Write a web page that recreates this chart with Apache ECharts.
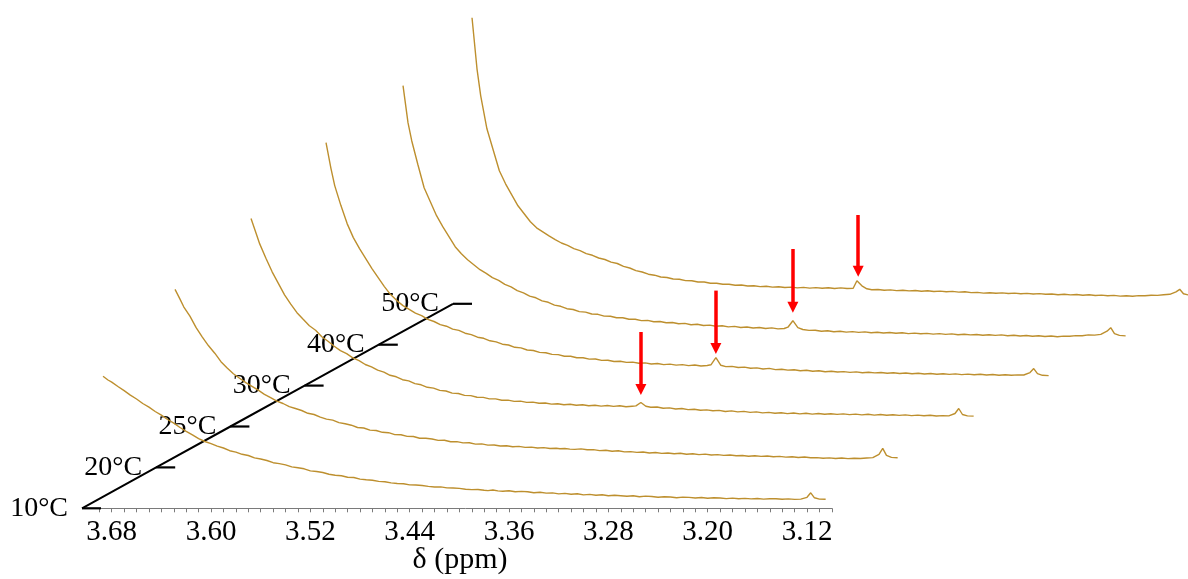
<!DOCTYPE html>
<html>
<head>
<meta charset="utf-8">
<script src="https://cdn.jsdelivr.net/npm/echarts@6/dist/echarts.min.js"></script>
<style>
html,body{margin:0;padding:0;background:#fff;}
#chart{width:1188px;height:579px;}
</style>
</head>
<body>
<div id="chart"></div>
<script>
// ---------------- DATA ----------------
const temps = ['10°C', '20°C', '25°C', '30°C', '40°C', '50°C'];

// chemical shift grid (ppm), shared by all spectra
const ppm = [
  3.687, 3.683, 3.680, 3.675, 3.670, 3.665, 3.660, 3.655, 3.650, 3.645, 3.640, 3.635, 3.630, 3.625,
  3.620, 3.615, 3.610, 3.605, 3.600, 3.595, 3.590, 3.585, 3.580, 3.575, 3.570, 3.565, 3.560, 3.555,
  3.550, 3.545, 3.540, 3.535, 3.530, 3.525, 3.520, 3.515, 3.510, 3.505, 3.500, 3.495, 3.490, 3.485,
  3.480, 3.475, 3.470, 3.465, 3.460, 3.455, 3.450, 3.445, 3.440, 3.435, 3.430, 3.425, 3.420, 3.415,
  3.410, 3.405, 3.400, 3.395, 3.390, 3.385, 3.380,
  3.377, 3.373, 3.369,
  3.365, 3.360, 3.355, 3.350, 3.345, 3.340, 3.335, 3.330, 3.325, 3.320, 3.315, 3.310, 3.305, 3.300,
  3.295, 3.290, 3.285, 3.280, 3.275, 3.270, 3.265, 3.260, 3.255, 3.250, 3.245, 3.240, 3.235, 3.230,
  3.225, 3.220, 3.215, 3.210, 3.205, 3.200, 3.195, 3.190, 3.185, 3.180, 3.175, 3.170, 3.165, 3.160,
  3.155, 3.150, 3.145, 3.140, 3.135, 3.130, 3.125, 3.120,
  3.117, 3.114, 3.110, 3.105
];

// intensities (arbitrary units) read for each temperature
const s10 = [
  132, 128.3, 126.2, 121.8, 117.7, 113.2, 109.3, 104.8, 101.2, 96.8, 93.1, 88.8, 85.2, 80.8,
  77, 73.4, 69.6, 66.8, 64.6, 62.1, 60.3, 57.6, 56.2, 54.0, 52.8, 50.4, 49.3, 47.8,
  45.6, 44.7, 43.4, 41.4, 40.5, 39.5, 37.4, 36.8, 35.8, 34.1, 33.1, 32.6, 31.0, 30.8,
  29.2, 28.5, 28.1, 26.9, 26.6, 25.4, 24.8, 24.6, 23.4, 23.3, 22.8, 21.9, 21.3, 21.4,
  20.4, 20.3, 19.9, 19.1, 18.7, 18.8, 18.1,
  17.7, 18.3, 17.4,
  17.0, 17.6, 16.5, 16.9, 16.6, 15.5, 16.1, 15.2, 15.4, 14.4, 14.9, 14.0, 14.5, 13.4,
  13.9, 13.0, 13.5, 12.5, 13.1, 12.6, 12.0, 12.5, 11.5, 12.2, 11.8, 11.0, 11.6, 11.3,
  10.6, 11.2, 10.9, 10.3, 10.8, 10.0, 10.5, 10.3, 9.7, 10.2, 9.6, 9.9, 9.4, 9.8,
  9.2, 9.6, 9.5, 9.0, 9.4, 8.9, 9.2, 11,
  15.5, 10.5, 9.2, 9
];
const s20 = [
  178, 168.3, 160.6, 151.2, 139.7, 130.3, 121.6, 114.2, 105.7, 99.3, 93.7, 89.2, 84.8, 81.1,
  77.2, 73.0, 69.8, 66.2, 63.9, 60.7, 58.9, 56.9, 54.1, 52.9, 50.2, 48.3, 47.3, 44.8,
  43.6, 42.2, 39.9, 39.4, 37.3, 36.9, 35.1, 34.7, 32.8, 32.6, 31.0, 30.9, 29.2, 29.1,
  28.4, 27.0, 27.1, 25.7, 25.8, 24.5, 24.6, 23.3, 23.5, 22.3, 22.4, 21.4, 21.7, 20.6,
  21.0, 20.0, 20.3, 19.4, 19.8, 18.9, 19.1,
  18.6, 18.9, 18.3,
  18.0, 18.5, 17.6, 17.8, 16.8, 17.1, 16.2, 16.7, 15.5, 15.8, 15.0, 15.4, 14.4, 14.9,
  14.0, 14.4, 13.6, 14.1, 13.2, 13.6, 12.8, 13.3, 12.4, 12.8, 12.0, 12.4, 11.7, 11.9,
  11.2, 11.7, 11.0, 11.4, 10.6, 11.0, 10.3, 10.7, 9.9, 10.4, 9.6, 9.8, 9.1, 9.5,
  8.9, 9.4, 8.8, 9.2, 8.9, 9.4, 9.8, 13,
  19, 12, 10, 9.7
];
const s25 = [
  208, 193.4, 182.6, 168.3, 154.7, 143.2, 131.7, 122.3, 113.8, 107.2, 100.7, 96.2, 89.8, 85.2,
  80.3, 75.9, 72.8, 68.7, 65.8, 62.0, 59.6, 56.3, 54.4, 51.2, 49.7, 46.8, 45.6, 42.9,
  41.7, 39.2, 38.4, 36.1, 35.5, 33.4, 33.0, 31.1, 30.9, 29.2, 29.1, 27.6, 27.6, 26.2,
  26.4, 25.1, 25.4, 24.1, 24.4, 23.2, 23.5, 22.4, 22.8, 21.7, 22.2, 21.2, 21.7, 20.7,
  21.3, 20.4, 21.0, 20.1, 20.7, 19.8, 20.3,
  20.6, 24, 20.2,
  19.3, 19.5, 18.2, 18.6, 17.5, 18.0, 16.9, 17.3, 16.2, 16.6, 15.7, 16.1, 15.0, 15.6,
  14.6, 15.1, 14.1, 14.6, 13.6, 14.1, 13.3, 13.7, 12.9, 13.5, 12.6, 13.2, 12.4, 13.0,
  12.2, 12.8, 12.1, 12.6, 11.9, 12.4, 11.6, 12.2, 11.4, 12.0, 11.3, 11.7, 11.1, 11.6,
  10.9, 11.4, 10.8, 11.2, 10.5, 10.9, 10.6, 13,
  18, 12, 10.6, 10.4
];
const s30 = [
  243, 217, 200, 180, 162, 148, 137, 127, 117, 108, 99, 91, 85, 80,
  76.2, 72.4, 69.9, 66.3, 64.1, 61.0, 59.4, 56.5, 55.2, 52.4, 51.0, 48.4, 47.3, 44.8,
  43.7, 41.4, 40.6, 38.3, 37.7, 35.6, 35.1, 33.2, 32.9, 31.2, 31.0, 29.4, 29.4, 27.9,
  27.9, 26.5, 26.6, 25.2, 25.4, 24.1, 24.4, 23.2, 23.5, 22.3, 22.7, 21.6, 22.1, 21.0,
  21.5, 20.5, 21.0, 20.0, 20.6, 19.6, 20.1,
  20.8, 28, 20.3,
  19.0, 19.2, 18.1, 18.5, 17.3, 17.7, 16.6, 17.2, 16.0, 16.4, 15.5, 15.9, 14.9, 15.4,
  14.4, 14.9, 13.9, 14.3, 13.6, 14.0, 13.2, 13.7, 12.9, 13.4, 12.7, 13.1, 12.3, 12.9,
  12.1, 12.6, 11.8, 12.3, 11.6, 12.1, 11.4, 11.9, 11.2, 11.7, 11.0, 11.5, 10.8, 11.3,
  10.6, 11.1, 10.4, 10.9, 10.3, 10.7, 10.6, 13,
  17, 12, 10.3, 10
];
const s40 = [
  259, 222, 204, 180, 157, 143, 129, 118, 108, 98, 91, 85, 80, 75,
  71.3, 67.1, 64.4, 60.4, 57.9, 54.1, 51.9, 48.6, 46.9, 43.8, 42.4, 39.6, 38.4, 36.0,
  35.2, 33.1, 32.6, 30.7, 30.4, 28.6, 28.5, 26.9, 26.9, 25.4, 25.5, 24.1, 24.3, 22.9,
  23.2, 21.9, 22.2, 20.9, 21.3, 20.0, 20.4, 19.2, 19.6, 18.4, 18.9, 17.8, 18.3, 17.2,
  17.7, 16.7, 17.2, 16.2, 16.8, 15.8, 16.2,
  17.5, 24, 17,
  15.2, 14.3, 14.4, 13.5, 13.9, 13.0, 13.4, 12.6, 13.1, 12.3, 12.8, 12.0, 12.5, 11.7,
  12.2, 11.4, 11.9, 11.1, 11.6, 10.9, 11.3, 10.6, 11.1, 10.3, 10.8, 10.0, 10.5, 9.8,
  10.2, 9.5, 10.0, 9.3, 9.8, 9.0, 9.5, 8.7, 9.2, 8.4, 8.9, 8.2, 8.7, 8.0,
  8.6, 8.4, 9.1, 9.0, 9.8, 9.6, 10.3, 13.5,
  17, 11, 9.3, 8.8
];
const s50 = [
  286, 235, 208, 175, 154, 133, 120, 109, 98, 90, 82, 76, 72, 68,
  64.2, 60.8, 58.5, 55.2, 53.2, 50.2, 48.5, 45.8, 44.3, 41.7, 40.3, 37.4, 35.8, 33.2,
  31.8, 29.6, 28.6, 26.8, 26.3, 24.8, 24.6, 23.2, 23.1, 21.8, 21.8, 20.6, 20.6, 19.5,
  19.6, 18.6, 18.8, 17.8, 18.1, 17.2, 17.5, 16.7, 17.1, 16.3, 16.7, 15.9, 16.4, 15.7,
  16.2, 15.5, 16.0, 15.3, 15.9, 15.3, 15.6,
  23, 18, 15,
  14.1, 14.3, 13.5, 13.9, 13.2, 13.6, 12.9, 13.3, 12.6, 13.0, 12.3, 12.7, 12.0, 12.4,
  11.7, 12.1, 11.2, 11.4, 10.7, 11.1, 10.5, 10.9, 10.3, 10.7, 10.0, 10.4, 9.8, 10.2,
  9.5, 9.8, 9.1, 9.6, 8.9, 9.3, 8.6, 9.0, 8.3, 8.7, 8.0, 8.4, 7.7, 8.1,
  7.6, 8.2, 8.0, 8.6, 8.4, 9.0, 9.5, 12,
  14.5, 10, 8.8, 8.8
];
const spectra = [s10, s20, s25, s30, s40, s50];

// red arrows: spectrum index, ppm position, arrow tail / head intensity
const arrowSpec = [2, 3, 4, 5];
const arrowPpm  = [3.373, 3.373, 3.373, 3.376];
const arrowTop  = [94.5, 95, 95.7, 88.8];
const arrowEnd  = [37, 37, 37.5, 32.6];

// ---------------- LAYOUT ----------------
const W = 1188, H = 579;
const ppmMin = 3.10, ppmMax = 3.69;
const pxPerPpm = 1241.6;
const frontLeft = 99.3;          // left edge of the front spectrum frame
const axisY = 508.3;             // y of the front axis line
const dxs = [0, 72, 148, 223, 300, 369];
const dyStep = 40.9;
const frameH = 300;
const diagLeft = 82, diagStep = 74.2;
const serif = "'Liberation Serif','Times New Roman',serif";
const specColor = '#bd8f2e';

const grids = [], xAxes = [], yAxes = [], series = [];
spectra.forEach((s, i) => {
  grids.push({
    left: frontLeft + dxs[i],
    width: (ppmMax - ppmMin) * pxPerPpm,
    bottom: (H - axisY) + dyStep * i,
    height: frameH,
    containLabel: false,
    outerBoundsMode: 'none'
  });
  const front = i === 0;
  xAxes.push({
    type: 'value', gridIndex: i, min: ppmMin, max: ppmMax, inverse: true,
    interval: 0.01, show: front,
    axisLine: { show: true, lineStyle: { color: '#7a7a7a', width: 1 } },
    axisTick: { show: true, length: 4, lineStyle: { color: '#7a7a7a', width: 1 } },
    axisLabel: {
      show: true, interval: 0, margin: 10, color: '#000',
      fontFamily: serif, fontSize: 29,
      formatter: v => (Math.round(v * 100) % 8 === 0 ? v.toFixed(2) : '')
    },
    splitLine: { show: false },
    name: front ? 'δ (ppm)' : '',
    nameLocation: 'middle', nameGap: 37, nameMoveOverlap: false,
    nameTextStyle: { fontFamily: serif, fontSize: 30, color: '#000', padding: [0, 11, 0, 0] }
  });
  yAxes.push({ type: 'value', gridIndex: i, min: 0, max: frameH, show: false });

  const k = arrowSpec.indexOf(i);
  const ser = {
    type: 'line', xAxisIndex: i, yAxisIndex: i,
    data: ppm.map((p, j) => [p, s[j]]),
    showSymbol: false, symbol: 'none', silent: true, z: 3,
    lineStyle: { color: specColor, width: 1.4 },
    animation: false
  };
  if (k >= 0) {
    ser.markLine = {
      silent: true, animation: false,
      symbol: ['none', 'triangle'], symbolSize: 11,
      label: { show: false },
      lineStyle: { color: '#ff0000', width: 3.5, type: 'solid' },
      data: [[{ coord: [arrowPpm[k], arrowTop[k]] }, { coord: [arrowPpm[k], arrowEnd[k]] }]]
    };
  }
  series.push(ser);
});

// diagonal temperature axis
const nT = temps.length;
grids.push({
  left: diagLeft, width: diagStep * (nT - 1),
  bottom: H - axisY, height: dyStep * (nT - 1),
  containLabel: false, outerBoundsMode: 'none'
});
xAxes.push({ type: 'value', gridIndex: nT, min: 0, max: nT - 1, show: false });
yAxes.push({ type: 'value', gridIndex: nT, min: 0, max: nT - 1, show: false });
series.push({
  type: 'line', xAxisIndex: nT, yAxisIndex: nT,
  data: temps.map((t, i) => [i, i]),
  symbol: 'rect', symbolSize: [19, 2.2], symbolOffset: [9.5, 0], showSymbol: true,
  itemStyle: { color: '#000' },
  lineStyle: { color: '#000', width: 2 },
  label: {
    show: true, position: 'left', distance: 14,
    formatter: p => temps[p.dataIndex],
    fontFamily: serif, fontSize: 28, color: '#000'
  },
  silent: true, z: 2, animation: false
});

const chart = echarts.init(document.getElementById('chart'), null, { renderer: 'canvas' });
chart.setOption({
  backgroundColor: '#fff',
  animation: false,
  grid: grids,
  xAxis: xAxes,
  yAxis: yAxes,
  series: series
});
</script>
</body>
</html>
